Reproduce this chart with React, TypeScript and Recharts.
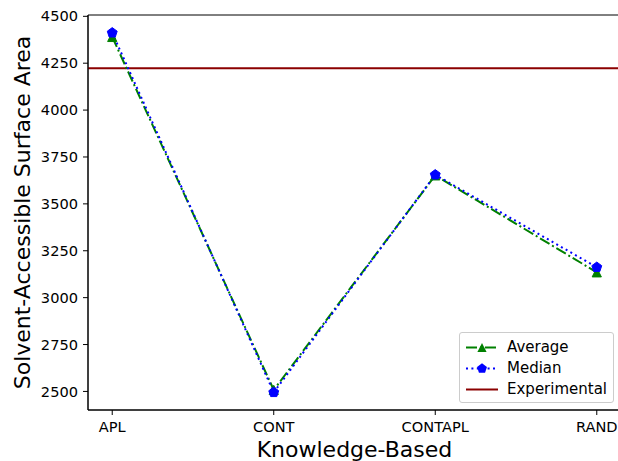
import {
  ComposedChart,
  Line,
  XAxis,
  YAxis,
  ReferenceLine,
  ReferenceArea,
  Legend,
} from "recharts";

const categories = ["APL", "CONT", "CONTAPL", "RAND"];
const averageValues = [4390, 2508, 3652, 3135];
const medianValues = [4412, 2495, 3655, 3162];
const experimentalValue = 4223;
const yTicks = [2500, 2750, 3000, 3250, 3500, 3750, 4000, 4250, 4500];

const FONT = "'DejaVu Sans', sans-serif";
const GREEN = "#008000";
const BLUE = "#0000ff";
const DARKRED = "#8b0000";
const AVG_DASH = "11 3 2 3";
const MED_DASH = "2 3.4";

const data = categories.map((name, i) => ({
  x: i,
  name,
  average: averageValues[i],
  median: medianValues[i],
}));

const triPoints = (cx: number, cy: number, r: number) =>
  `${cx},${cy - r} ${cx - r},${cy + r} ${cx + r},${cy + r}`;

const pentPoints = (cx: number, cy: number, r: number) =>
  Array.from({ length: 5 }, (_, k) => {
    const a = -Math.PI / 2 + (k * 2 * Math.PI) / 5;
    return `${cx + r * Math.cos(a)},${cy + r * Math.sin(a)}`;
  }).join(" ");

const TriangleDot = (props: any) => {
  const { cx, cy, index } = props;
  if (cx == null || cy == null) return <g key={`t-${index}`} />;
  return <polygon key={`t-${index}`} points={triPoints(cx, cy, 4.6)} fill={GREEN} stroke={GREEN} strokeWidth={1} />;
};

const PentagonDot = (props: any) => {
  const { cx, cy, index } = props;
  if (cx == null || cy == null) return <g key={`p-${index}`} />;
  return <polygon key={`p-${index}`} points={pentPoints(cx, cy, 5.2)} fill={BLUE} stroke={BLUE} strokeWidth={1} />;
};

const legendItems = [
  { label: "Average", color: GREEN, dash: AVG_DASH, marker: "tri" },
  { label: "Median", color: BLUE, dash: MED_DASH, marker: "pent" },
  { label: "Experimental", color: DARKRED, dash: undefined, marker: null },
];

const LegendBox = () => (
  <div
    style={{
      width: 155,
      boxSizing: "border-box",
      border: "1px solid #cccccc",
      borderRadius: 3,
      background: "rgba(255,255,255,0.8)",
      padding: "4px 5px 2px 6px",
      fontFamily: FONT,
      fontSize: 15,
      color: "#000",
    }}
  >
    {legendItems.map((it) => (
      <div key={it.label} style={{ display: "flex", alignItems: "center", height: 21 }}>
        <svg width={32} height={21} style={{ marginRight: 9, flex: "none" }}>
          <line x1={0} y1={10.5} x2={32} y2={10.5} stroke={it.color} strokeWidth={2} strokeDasharray={it.dash} />
          {it.marker === "tri" && <polygon points={triPoints(16, 10.5, 4.6)} fill={it.color} />}
          {it.marker === "pent" && <polygon points={pentPoints(16, 10.5, 5.2)} fill={it.color} />}
        </svg>
        <span style={{ lineHeight: "21px" }}>{it.label}</span>
      </div>
    ))}
  </div>
);

const YLabel = (props: any) => {
  const vb = props.viewBox || { x: 0, y: 0, width: 0, height: 0 };
  const x = vb.x + 22;
  const y = vb.y + vb.height / 2;
  return (
    <text
      x={x}
      y={y}
      transform={`rotate(-90 ${x} ${y})`}
      textAnchor="middle"
      dominantBaseline="central"
      fontFamily={FONT}
      fontSize={22}
      fill="#000"
    >
      Solvent-Accessible Surface Area
    </text>
  );
};

export default function App() {
  return (
    <div style={{ position: "absolute", left: 0, top: 0, width: 618, height: 461, overflow: "hidden", background: "#fff" }}>
      <ComposedChart width={622} height={461} data={data} margin={{ top: 15, right: 1, left: 0, bottom: 0 }}>
        <XAxis
          dataKey="x"
          type="number"
          domain={[-0.15, 3.15]}
          ticks={[0, 1, 2, 3]}
          tickFormatter={(v: number) => categories[v] ?? ""}
          height={51}
          stroke="#000"
          tickSize={5}
          tickMargin={7}
          tick={{ fill: "#000", fontFamily: FONT, fontSize: 14.6 }}
          label={{ value: "Knowledge-Based", position: "insideBottom", offset: 4, fill: "#000", fontFamily: FONT, fontSize: 22 }}
        />
        <YAxis
          type="number"
          domain={[2401, 4507]}
          ticks={yTicks}
          allowDataOverflow
          width={88}
          stroke="#000"
          tickSize={5}
          tickMargin={5}
          tick={{ fill: "#000", fontFamily: FONT, fontSize: 14.6 }}
          label={<YLabel />}
        />
        <ReferenceLine y={experimentalValue} stroke={DARKRED} strokeWidth={2} />
        <Line
          type="linear"
          dataKey="average"
          name="Average"
          stroke={GREEN}
          strokeWidth={2}
          strokeDasharray={AVG_DASH}
          dot={TriangleDot}
          activeDot={false}
          isAnimationActive={false}
        />
        <Line
          type="linear"
          dataKey="median"
          name="Median"
          stroke={BLUE}
          strokeWidth={2}
          strokeDasharray={MED_DASH}
          dot={PentagonDot}
          activeDot={false}
          isAnimationActive={false}
        />
        <ReferenceArea y1={2401} y2={4507} fill="none" fillOpacity={0} stroke="#000" strokeWidth={1} />
        <Legend
          layout="vertical"
          align="center"
          verticalAlign="middle"
          content={() => <LegendBox />}
          wrapperStyle={{ left: 459, top: 332, width: 155, height: 71 }}
        />
      </ComposedChart>
    </div>
  );
}
